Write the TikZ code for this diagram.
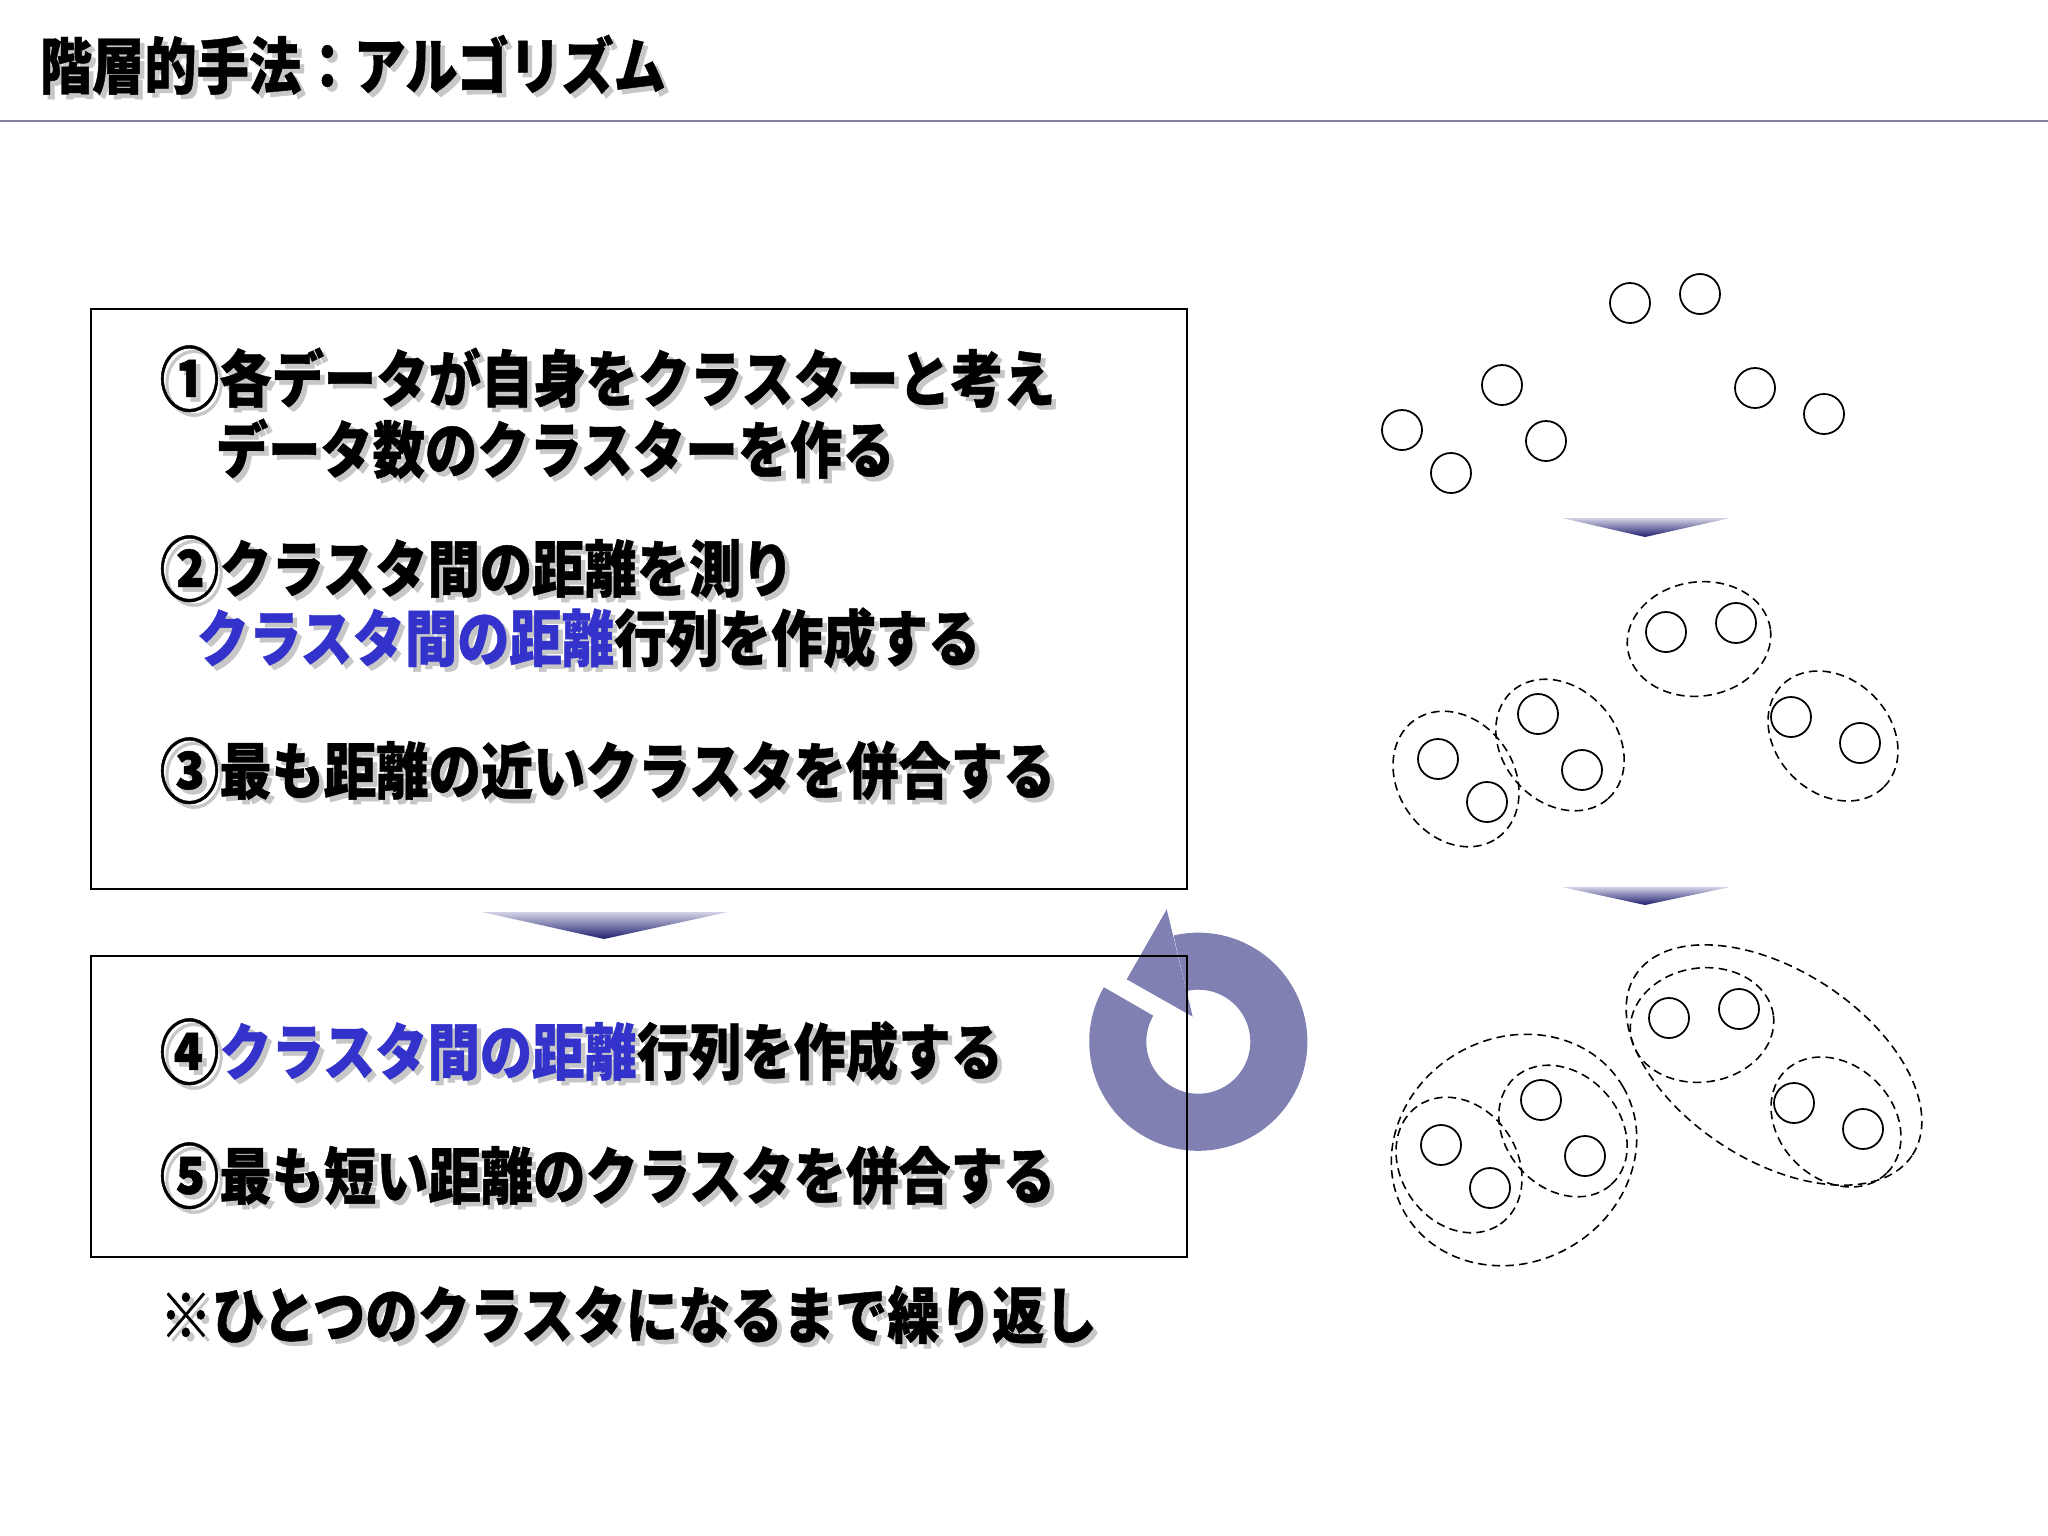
\documentclass[tikz,border=0pt]{standalone}
\usepackage{fontspec}
\usepackage{graphicx}
\usetikzlibrary{shapes.geometric}
\newfontfamily\jp{Noto Sans CJK JP}[FakeStretch=0.85, BoldFeatures={FakeBold=0.7}]
\definecolor{arrowc}{RGB}{128,128,178}
\definecolor{hl}{RGB}{51,51,204}
\definecolor{rulec}{RGB}{128,128,160}
\definecolor{triTop}{RGB}{210,210,230}
\definecolor{triBot}{RGB}{30,30,110}
% #1 = full text for the shadow, #2 = coloured foreground
\newcommand{\shdl}[2]{\makebox[0pt][l]{\kern1.3pt\raisebox{-1.3pt}{\textcolor{black!22}{#1}}}#2}
\newcommand{\shd}[1]{\shdl{#1}{#1}}
\newcommand{\cn}[1]{\raisebox{-0.06em}{\scalebox{1.14}{#1}}}
\tikzset{
  txt/.style={anchor=west, inner sep=0pt, font=\jp\bfseries\fontsize{17.5pt}{21pt}\selectfont},
  box/.style={draw=black, line width=0.6pt, minimum width=10.96cm, inner sep=0pt},
  pt/.style={circle, draw=black, line width=0.5pt, minimum size=0.4cm, inner sep=0pt},
  grp/.style={ellipse, draw=black, line width=0.45pt, dash pattern=on 2.4pt off 1.5pt, inner sep=0pt},
  tri/.style={top color=triTop, bottom color=triBot, draw=none}
}
\begin{document}
\begin{tikzpicture}[x=0.01cm, y=-0.01cm]
\useasboundingbox (0,0) rectangle (2048,1536);
\fill[white] (0,0) rectangle (2048,1536);

% title and rule
\node[txt] (title) at (39,67) {\shd{階層的手法：アルゴリズム}};
\coordinate (rl) at (0,121);
\coordinate (rr) at (2048,121);
\draw[rulec, line width=0.5pt] (rl) -- (rr);

% cycle arrow
\begin{scope}[shift={(1198.3,1041.7)}, y=0.01cm]
  \fill[arrowc] (150:1.09cm) arc[start angle=150, end angle=463.1, radius=1.09cm]
     -- (463.1:0.52cm) arc[start angle=463.1, end angle=150, radius=0.52cm] -- cycle;
  \fill[arrowc] (-31.6,132.4) -- (-71.6,62.4) -- (-5.6,25) -- cycle;
\end{scope}

% boxes
\node[box, minimum height=5.80cm] (box1) at (639,599) {};
\node[box, minimum height=3.01cm] (box2) at (639,1106.5) {};

% texts
\node[txt] (l1) at (159,381) {\shd{\cn{①}各データが自身をクラスターと考え}};
\node[txt] (l2) at (215,451) {\shd{データ数のクラスターを作る}};
\node[txt] (l3) at (159,571) {\shd{\cn{②}クラスタ間の距離を測り}};
\node[txt] (l4) at (196,640) {\shdl{クラスタ間の距離行列を作成する}{\textcolor{hl}{クラスタ間の距離}行列を作成する}};
\node[txt] (l5) at (159,773) {\shd{\cn{③}最も距離の近いクラスタを併合する}};
\node[txt] (l6) at (159,1054) {\shdl{\cn{④}クラスタ間の距離行列を作成する}{\cn{④}\textcolor{hl}{クラスタ間の距離}行列を作成する}};
\node[txt] (l7) at (159,1178) {\shd{\cn{⑤}最も短い距離のクラスタを併合する}};
\node[txt] (l8) at (159,1317) {\shd{※ひとつのクラスタになるまで繰り返し}};

% gradient triangles
\shade[tri] (482,912) -- (728,912) -- (604,939) -- cycle;
\shade[tri] (1562,518) -- (1730,518) -- (1645,537) -- cycle;
\shade[tri] (1562,887) -- (1730,887) -- (1645,905) -- cycle;

% data points, three stages
\foreach \n/\px/\py in {a/1666/632, b/1736/623, c/1538/714, d/1582/770, e/1438/759, f/1487/802, g/1791/717, h/1860/743}{
  \node[pt] (s1\n) at (\px-36,\py-329) {};
  \node[pt] (s2\n) at (\px,\py) {};
  \node[pt] (s3\n) at (\px+3,\py+386) {};
}

% stage 2 groups
\node[grp, minimum width=1.44cm, minimum height=1.14cm, rotate=8] (g2ab) at (1699,639) {};
\node[grp, minimum width=1.44cm, minimum height=1.14cm, rotate=-48] (g2cd) at (1560,745) {};
\node[grp, minimum width=1.44cm, minimum height=1.16cm, rotate=-55] (g2ef) at (1456,779) {};
\node[grp, minimum width=1.44cm, minimum height=1.14cm, rotate=-45] (g2gh) at (1833,736) {};

% stage 3 groups
\node[grp, minimum width=1.44cm, minimum height=1.14cm, rotate=8] (g3ab) at (1702,1025) {};
\node[grp, minimum width=1.44cm, minimum height=1.14cm, rotate=-48] (g3cd) at (1563,1131) {};
\node[grp, minimum width=1.44cm, minimum height=1.16cm, rotate=-55] (g3ef) at (1459,1165) {};
\node[grp, minimum width=1.44cm, minimum height=1.14cm, rotate=-45] (g3gh) at (1836,1122) {};
\node[grp, minimum width=2.52cm, minimum height=2.24cm, rotate=30] (g3L) at (1514,1150) {};
\node[grp, minimum width=3.30cm, minimum height=1.90cm, rotate=-33] (g3R) at (1774,1065) {};
\end{tikzpicture}
\end{document}
